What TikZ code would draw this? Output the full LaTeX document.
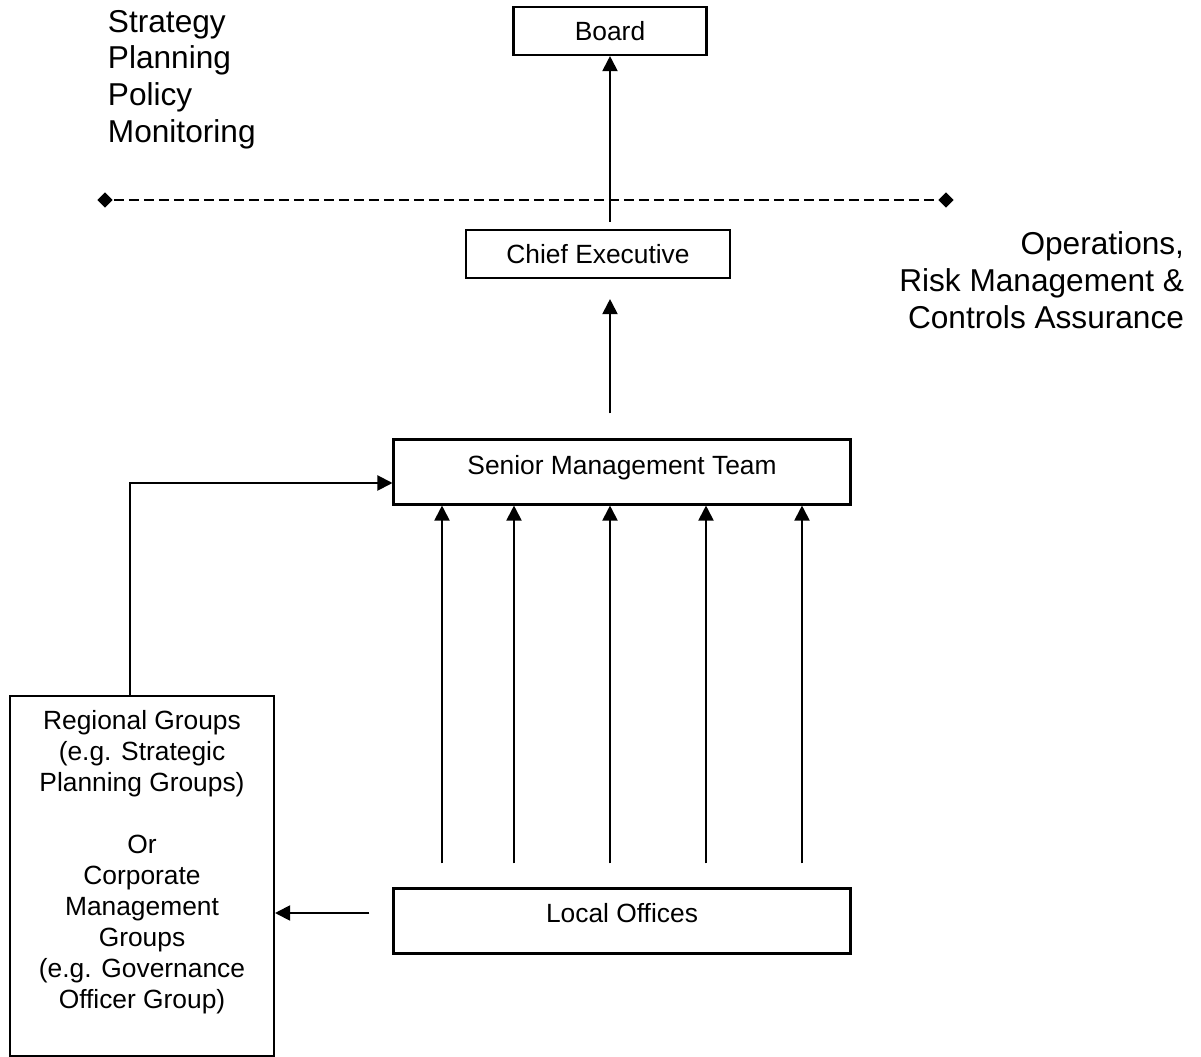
\documentclass[tikz,border=0pt]{standalone}
\usepackage{fontspec}
\setmainfont{Liberation Sans}
\usetikzlibrary{arrows.meta,shapes.geometric}

\begin{document}
\begin{tikzpicture}[x=0.02cm,y=-0.02cm,>={Triangle[length=0.3cm,width=0.3cm]},line width=1.1pt,
    box/.style={draw,rectangle,inner sep=0pt,line width=1.2pt,font=\fontsize{15}{17.6}\selectfont},
    tip/.style={diamond,fill=black,inner sep=0pt,minimum size=0.32cm},
    side/.style={inner sep=0pt,font=\fontsize{18}{21}\selectfont}]
      \useasboundingbox (0,0) rectangle (1201,1057);

      \node[box,minimum width=3.86cm,minimum height=0.96cm] (board) at (610,31) {Board};
      \node[box,minimum width=5.28cm,minimum height=0.96cm] (chief) at (598,254) {Chief Executive};
      \node[box,minimum width=9.14cm,minimum height=1.3cm,text height=0.38cm,text depth=0.26cm] (smt) at (622,472) {Senior Management Team};
      \node[box,minimum width=9.14cm,minimum height=1.3cm,text height=0.38cm,text depth=0.34cm] (local) at (622,921) {Local Offices};
      \node[box,minimum width=5.28cm,minimum height=7.2cm] (regional) at (142,876) {};
      \node[align=center,inner sep=0pt,font=\fontsize{15}{17.6}\selectfont] (regionaltext) at (142,862)
        {Regional Groups\\(e.g. Strategic\\Planning Groups)\\[0.62cm]Or\\Corporate\\Management\\Groups\\(e.g. Governance\\Officer Group)};

      \node[side,align=left,anchor=north west] (roles) at (107,9) {Strategy\\Planning\\Policy\\Monitoring};
      \node[side,align=right,anchor=north east] (ops) at (1185,231) {Operations,\\Risk Management \&\\Controls Assurance};

      % dividing line
      \node[tip] (dl) at (105,200) {};
      \node[tip] (dr) at (946,200) {};
      \draw[line width=0.9pt,dash pattern=on 0.2cm off 0.1cm] (dl) -- (dr);

      \draw[->,shorten <=0.14cm] (chief.north -| board.south) -- (board.south);
      \draw[->,shorten <=0.5cm,shorten >=0.4cm] (smt.north -| board.south) -- (chief.south -| board.south);

      \foreach \x in {442,514,610,706,802}
        \draw[->,shorten <=0.48cm] (local.north -| \x,0) -- (smt.south -| \x,0);

      \draw[->,shorten <=0.46cm] ([yshift=0.16cm]local.west) -- ([yshift=0.16cm]local.west -| regional.east);
      \draw[->] (regional.north -| 130,0) |- ([yshift=-0.22cm]smt.west);
    \end{tikzpicture}
\end{document}
